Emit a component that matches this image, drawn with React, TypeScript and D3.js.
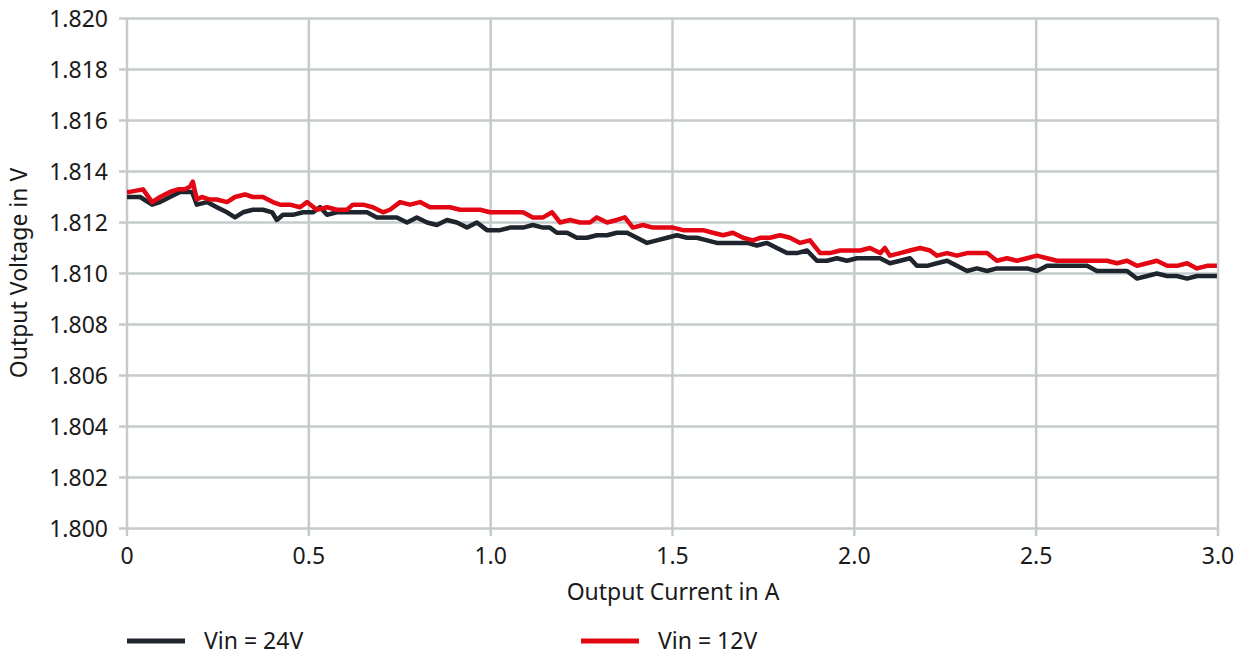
import React from "react";
import * as d3 from "d3";

const xTicks = [0, 0.5, 1.0, 1.5, 2.0, 2.5, 3.0];
const xTickLabels = ["0", "0.5", "1.0", "1.5", "2.0", "2.5", "3.0"];
const yTicks = [1.8, 1.802, 1.804, 1.806, 1.808, 1.81, 1.812, 1.814, 1.816, 1.818, 1.82];

const current12 = [0,0.008,0.044,0.069,0.091,0.118,0.140,0.159,0.173,0.181,0.192,0.206,0.228,0.247,0.275,0.297,0.324,0.346,0.374,0.401,0.421,0.448,0.476,0.495,0.522,0.550,0.577,0.605,0.621,0.649,0.676,0.704,0.723,0.751,0.778,0.806,0.833,0.861,0.888,0.916,0.943,0.971,0.998,
1.026,1.061,1.089,1.116,1.144,1.169,1.191,1.218,1.246,1.273,1.292,1.320,1.347,1.369,1.391,1.419,1.446,1.474,1.501,1.529,1.556,1.584,1.611,1.639,1.666,1.694,1.721,1.741,1.768,1.796,1.823,1.851,1.878,1.906,1.933,1.961,1.988,2.016,
2.043,2.071,2.084,2.098,2.126,2.153,2.181,2.208,2.227,2.255,2.282,2.310,2.337,2.365,2.392,2.420,2.447,2.475,2.502,2.530,2.557,2.585,2.612,2.640,2.667,2.695,2.722,2.750,2.777,2.805,2.832,2.860,2.887,2.915,2.942,2.970,2.997];
const voltage12 = [1.8132,1.8132,1.8133,1.8128,1.8130,1.8132,1.8133,1.8133,1.8134,1.8136,1.8129,1.8130,1.8129,1.8129,1.8128,1.8130,1.8131,1.8130,1.8130,1.8128,1.8127,1.8127,1.8126,1.8128,1.8125,1.8126,1.8125,1.8125,1.8127,1.8127,1.8126,1.8124,1.8125,1.8128,1.8127,1.8128,1.8126,1.8126,1.8126,1.8125,1.8125,1.8125,1.8124,
1.8124,1.8124,1.8124,1.8122,1.8122,1.8124,1.8120,1.8121,1.8120,1.8120,1.8122,1.8120,1.8121,1.8122,1.8118,1.8119,1.8118,1.8118,1.8118,1.8117,1.8117,1.8117,1.8116,1.8115,1.8116,1.8114,1.8113,1.8114,1.8114,1.8115,1.8114,1.8112,1.8113,1.8108,1.8108,1.8109,1.8109,1.8109,
1.8110,1.8108,1.8110,1.8107,1.8108,1.8109,1.8110,1.8109,1.8107,1.8108,1.8107,1.8108,1.8108,1.8108,1.8105,1.8106,1.8105,1.8106,1.8107,1.8106,1.8105,1.8105,1.8105,1.8105,1.8105,1.8105,1.8104,1.8105,1.8103,1.8104,1.8105,1.8103,1.8103,1.8104,1.8102,1.8103,1.8103];

const current24 = [0,0.008,0.036,0.069,0.091,0.118,0.146,0.165,0.179,0.192,0.220,0.247,0.275,0.297,0.319,0.346,0.374,0.399,0.412,0.429,0.456,0.484,0.511,0.531,0.550,0.577,0.605,0.632,0.660,0.687,0.715,0.742,0.770,0.797,0.825,0.852,0.880,0.907,0.935,0.962,0.990,
1.026,1.053,1.089,1.116,1.144,1.163,1.182,1.210,1.237,1.265,1.292,1.320,1.347,1.375,1.402,1.430,1.457,1.485,1.512,1.540,1.567,1.595,1.622,1.650,1.677,1.705,1.732,1.760,1.787,1.815,1.842,1.870,1.897,1.925,1.952,1.980,2.007,
2.043,2.071,2.098,2.126,2.153,2.172,2.200,2.227,2.255,2.282,2.310,2.337,2.365,2.392,2.420,2.447,2.475,2.502,2.530,2.557,2.585,2.612,2.640,2.667,2.695,2.722,2.750,2.777,2.805,2.832,2.860,2.887,2.915,2.942,2.970,2.997];
const voltage24 = [1.8130,1.8130,1.8130,1.8127,1.8128,1.8130,1.8132,1.8132,1.8132,1.8127,1.8128,1.8126,1.8124,1.8122,1.8124,1.8125,1.8125,1.8124,1.8121,1.8123,1.8123,1.8124,1.8124,1.8126,1.8123,1.8124,1.8124,1.8124,1.8124,1.8122,1.8122,1.8122,1.8120,1.8122,1.8120,1.8119,1.8121,1.8120,1.8118,1.8120,1.8117,
1.8117,1.8118,1.8118,1.8119,1.8118,1.8118,1.8116,1.8116,1.8114,1.8114,1.8115,1.8115,1.8116,1.8116,1.8114,1.8112,1.8113,1.8114,1.8115,1.8114,1.8114,1.8113,1.8112,1.8112,1.8112,1.8112,1.8111,1.8112,1.8110,1.8108,1.8108,1.8109,1.8105,1.8105,1.8106,1.8105,1.8106,
1.8106,1.8106,1.8104,1.8105,1.8106,1.8103,1.8103,1.8104,1.8105,1.8103,1.8101,1.8102,1.8101,1.8102,1.8102,1.8102,1.8102,1.8101,1.8103,1.8103,1.8103,1.8103,1.8103,1.8101,1.8101,1.8101,1.8101,1.8098,1.8099,1.8100,1.8099,1.8099,1.8098,1.8099,1.8099,1.8099];

const series = [
  { name: "Vin = 24V", x: current24, y: voltage24, color: "#1f252c" },
  { name: "Vin = 12V", x: current12, y: voltage12, color: "#e30613" },
];

const W = 1244, H = 655;
const FONT = "'Noto Sans', 'Open Sans', sans-serif";
const GRID = "#c5cbcd";
const FS = 23;

export default function App() {
  const x = d3.scaleLinear().domain([0, 3]).range([127, 1218]);
  const y = d3.scaleLinear().domain([1.8, 1.82]).range([528.5, 18.5]);
  const line = d3.line<[number, number]>().x(d => x(d[0])).y(d => y(d[1]));

  return (
    <svg width={W} height={H} style={{ position: "absolute", left: 0, top: 0, display: "block", background: "#fff" }} fontFamily={FONT}>
      {yTicks.map((t, i) => (
        <g key={"y" + i}>
          <line x1={119} x2={x(3)} y1={y(t)} y2={y(t)} stroke={GRID} strokeWidth={2.5} />
          <text x={108} y={y(t)} dy="0.35em" textAnchor="end" fontSize={FS} fill="#1a1a1a">{t.toFixed(3)}</text>
        </g>
      ))}
      {xTicks.map((t, i) => (
        <g key={"x" + i}>
          <line x1={x(t)} x2={x(t)} y1={y(1.82)} y2={536} stroke={GRID} strokeWidth={2.5} />
          <text x={x(t)} y={564} textAnchor="middle" fontSize={FS} fill="#1a1a1a">{xTickLabels[i]}</text>
        </g>
      ))}
      {series.map((s, i) => (
        <path key={"s" + i} d={line(s.x.map((v, j) => [v, s.y[j]] as [number, number])) || ""} fill="none" stroke={s.color} strokeWidth={4.5} strokeLinejoin="round" />
      ))}
      <text x={673} y={600} textAnchor="middle" fontSize={FS} fill="#1a1a1a">Output Current in A</text>
      <text transform={`translate(27,273) rotate(-90)`} textAnchor="middle" fontSize={FS} fill="#1a1a1a">Output Voltage in V</text>
      {series.map((s, i) => {
        const lx = i === 0 ? 127 : 581;
        return (
          <g key={"l" + i}>
            <line x1={lx} x2={lx + 58} y1={641} y2={641} stroke={s.color} strokeWidth={5} />
            <text x={lx + 77} y={641} dy="0.35em" fontSize={FS} fill="#1a1a1a">{s.name}</text>
          </g>
        );
      })}
    </svg>
  );
}
